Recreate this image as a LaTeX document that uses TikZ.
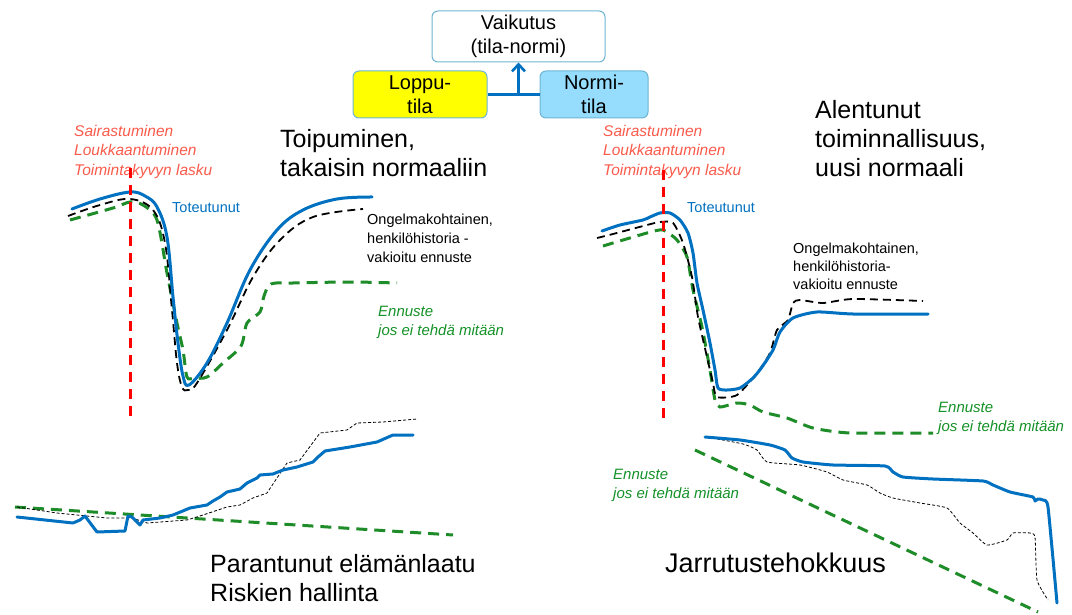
\documentclass[tikz,border=0pt]{standalone}
\usepackage{fontspec}
\setmainfont{Liberation Sans}
\usetikzlibrary{arrows.meta}
\definecolor{lineblue}{RGB}{0,112,192}
\definecolor{dgreen}{RGB}{30,140,40}
\definecolor{tgreen}{RGB}{20,145,40}
\definecolor{salmon}{RGB}{250,90,75}
\definecolor{boxedge}{RGB}{110,180,210}
\definecolor{normifill}{RGB}{150,220,252}
\definecolor{loppufill}{RGB}{255,255,0}
\tikzset{
  boxstyle/.style={draw=boxedge, line width=1pt, rounded corners=6pt, inner sep=0pt, align=center, font=\fontsize{20}{24}\selectfont},
  conn/.style={draw=lineblue, line width=2.6pt},
  blueline/.style={draw=lineblue, line width=3pt, line join=round, line cap=round},
  blackdash/.style={draw=black, line width=1.8pt, dash pattern=on 8pt off 5pt},
  greendash/.style={draw=dgreen, line width=3pt, dash pattern=on 11pt off 7pt},
  reddash/.style={draw=red, line width=3pt, dash pattern=on 10pt off 7pt},
  thindash/.style={draw=black, line width=0.8pt, dash pattern=on 3pt off 2pt},
  redlabel/.style={anchor=north west, inner sep=0pt, align=left, text=salmon, font=\fontsize{15.5}{19.3}\selectfont\itshape},
  biglabel/.style={anchor=north west, inner sep=0pt, align=left, font=\fontsize{25}{29}\selectfont},
  smalllabel/.style={anchor=north west, inner sep=0pt, align=left, font=\fontsize{14.5}{19}\selectfont},
  greenlabel/.style={anchor=north west, inner sep=0pt, align=left, text=tgreen, font=\fontsize{15}{18.5}\selectfont\itshape},
  bluelabel/.style={anchor=north west, inner sep=0pt, text=lineblue, font=\fontsize{14.5}{17}\selectfont},
}
\begin{document}
\begin{tikzpicture}[x=1pt,y=-1pt]
\useasboundingbox (0,0) rectangle (1072,615);

% --- top boxes
\node[boxstyle, fill=white, minimum width=173pt, minimum height=51pt] (vaik) at (518.5,36.5) {Vaikutus\\(tila-normi)};
\node[boxstyle, fill=loppufill, minimum width=134pt, minimum height=47pt] (loppu) at (420,94.5) {Loppu-\\tila};
\node[boxstyle, fill=normifill, minimum width=108pt, minimum height=47pt] (normi) at (594,94.5) {Normi-\\tila};
\draw[conn] (loppu.east) -- (normi.west);
\coordinate (joint) at (vaik.south |- loppu.east);
\draw[conn, -{Straight Barb[length=7pt,width=13pt]}] (joint) -- (vaik.south);

% --- left panel
\node[redlabel] (redL) at (74,125) {Sairastuminen\\Loukkaantuminen\\Toimintakyvyn lasku};
\node[biglabel] (toip) at (280,129) {Toipuminen,\\takaisin normaaliin};
\node[bluelabel] (totL) at (172,202) {Toteutunut};
\node[smalllabel] (ongL) at (367,214) {Ongelmakohtainen,\\henkilöhistoria -\\vakioitu ennuste};
\node[greenlabel] (ennL) at (378,306) {Ennuste\\jos ei tehdä mitään};

\draw[greendash] plot[smooth, tension=0.5] coordinates {(70,220) (113,208) (130,202) (143,205) (157,220) (167,273) (177,323) (183,350) (187,377) (194,378) (207,377) (223,363) (241,346) (247,323) (260,312) (264,296) (271,284) (293,283) (350,282) (397,283)};
\draw[blackdash] plot[smooth, tension=0.6] coordinates {(68,216) (100,205) (130,199) (153,210) (165,243) (172,310) (177,363) (182,387) (188,390) (197,383) (227,330) (253,277) (280,240) (313,217) (363,209)};
\draw[blueline] plot[smooth, tension=0.6] coordinates {(72,209) (100,199) (130,192) (145,196) (157,207) (167,237) (173,297) (178,343) (183,376) (189,385) (207,363) (227,323) (250,270) (277,230) (303,210) (337,199) (372,197)};
\coordinate (rLtop) at (130,168);
\coordinate (rLbot) at (130,422);
\draw[reddash] (rLtop) -- (rLbot);

% --- lower left
\node[biglabel] (param) at (210,554) {Parantunut elämänlaatu\\Riskien hallinta};
\draw[greendash] (15,507) coordinate (gLa) -- (453,535) coordinate (gLb);
\draw[thindash] plot coordinates {(17,507) (57,513) (107,518) (132,518) (147,523) (187,520) (200,516) (227,507) (240,505) (253,498) (267,493) (277,478) (287,463) (300,460) (320,433) (347,430) (357,423) (383,422) (417,419)};
\draw[blueline] plot coordinates {(17,517) (73,523) (80,520) (85,516) (97,532) (125,531) (128,516) (132,517) (140,525) (143,520) (160,518) (173,515) (190,508) (207,505) (213,501) (220,497) (227,492) (240,489) (247,483) (257,478) (260,475) (273,474) (283,470) (297,467) (313,462) (318,457) (325,451) (350,447) (377,442) (393,435) (413,435)};

% --- right panel
\node[redlabel] (redR) at (603,125) {Sairastuminen\\Loukkaantuminen\\Toimintakyvyn lasku};
\node[biglabel] (alent) at (815,100) {Alentunut\\toiminnallisuus,\\uusi normaali};
\node[bluelabel] (totR) at (687,202) {Toteutunut};
\node[smalllabel, font=\fontsize{14.5}{18}\selectfont] (ongR) at (793,243) {Ongelmakohtainen,\\henkilöhistoria-\\vakioitu ennuste};
\node[greenlabel] (ennR) at (938,402) {Ennuste\\jos ei tehdä mitään};
\node[greenlabel] (ennR2) at (613,469) {Ennuste\\jos ei tehdä mitään};

\draw[greendash] plot[smooth, tension=0.4] coordinates {(603,246) (647,233) (663,230) (677,240) (687,257) (693,290) (702,327) (710,370) (715,400) (720,407) (737,403) (750,405) (763,412) (787,418) (813,428) (850,433) (933,433)};
\draw[blackdash] plot[smooth, tension=0.4] coordinates {(597,238) (613,234) (647,225) (660,222) (673,223) (683,243) (692,277) (698,317) (707,357) (713,383) (717,397) (737,395) (757,373) (770,353) (777,330) (788,320) (793,303) (800,300) (823,303) (853,299) (923,301)};
\draw[blueline] plot[smooth, tension=0.4] coordinates {(602,231) (620,225) (643,220) (650,217) (660,213) (670,213) (680,220) (688,233) (693,253) (697,283) (703,310) (710,343) (715,370) (718,388) (727,390) (740,388) (753,378) (762,367) (773,350) (780,332) (793,318) (817,312) (853,314) (928,314)};
\coordinate (rRtop) at (663,170);
\coordinate (rRbot) at (663,422);
\draw[reddash] (rRtop) -- (rRbot);

% --- lower right
\node[biglabel, font=\fontsize{27}{31}\selectfont] (jarr) at (665,553) {Jarrutustehokkuus};
\draw[greendash] (695,450) coordinate (gRa) -- (1038,612) coordinate (gRb);
\draw[thindash] plot[smooth, tension=0.3] coordinates {(707,437) (743,444) (757,450) (767,462) (800,465) (827,472) (843,480) (867,485) (880,493) (893,498) (920,503) (947,508) (960,523) (973,533) (987,545) (1007,540) (1013,533) (1030,533) (1035,537) (1037,580) (1048,600)};
\draw[blueline] plot[smooth, tension=0.3] coordinates {(705,437) (740,440) (770,445) (785,450) (792,458) (803,462) (833,465) (885,466) (893,472) (903,477) (933,479) (983,481) (993,485) (1010,492) (1033,497) (1035,501) (1038,499) (1043,500) (1048,507) (1057,603)};
\end{tikzpicture}
\end{document}
